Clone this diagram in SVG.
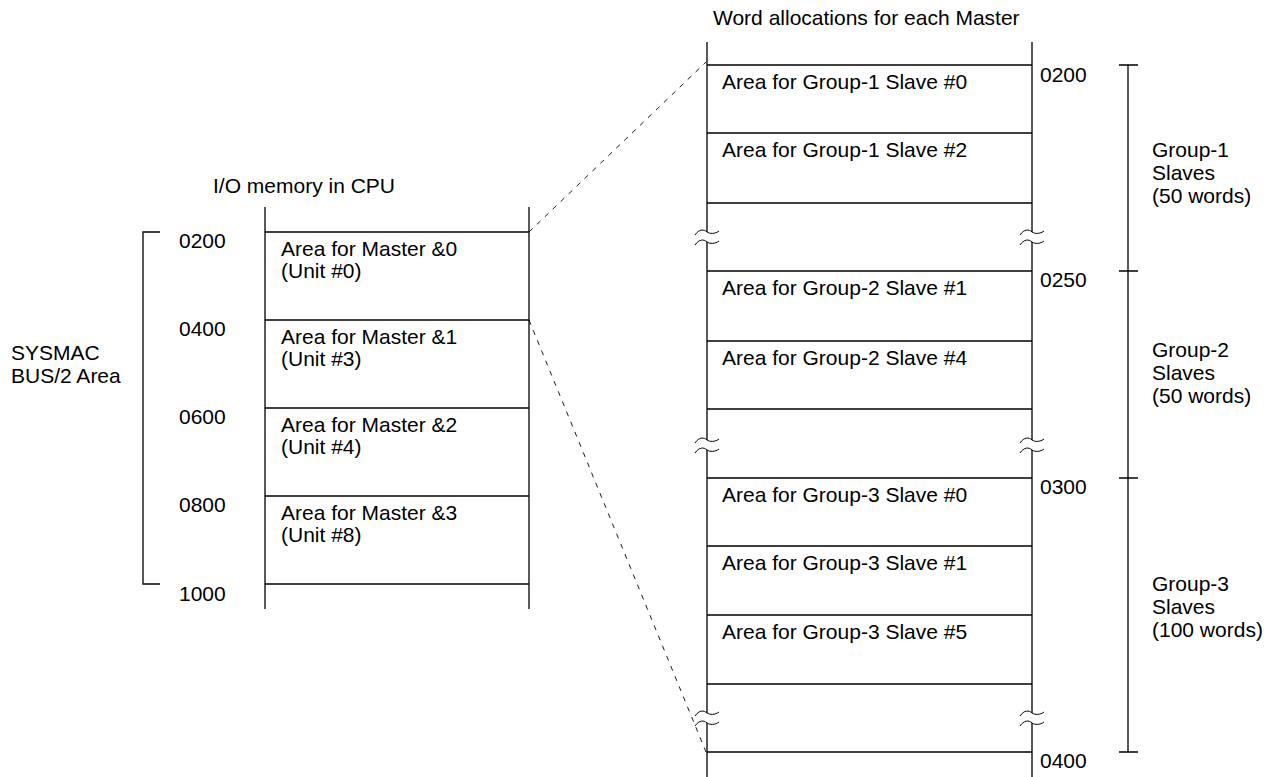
<svg xmlns="http://www.w3.org/2000/svg" width="1273" height="777" viewBox="0 0 1273 777">
<style>
text{font-family:"Liberation Sans",Arial,sans-serif;font-size:21px;fill:#000}
.ln{stroke:#000;stroke-width:1.3;fill:none}
.dash{stroke:#000;stroke-width:0.9;fill:none;stroke-dasharray:5 6}
.brk{stroke:#000;stroke-width:1;fill:none}
</style>
<defs>
<path id="wave" d="M-12,3 C-8,-3 -3,-3 0,0 C3,2 8,2 12,-1"/>
<g id="brk"><use href="#wave" y="0"/><use href="#wave" y="10"/></g>
</defs>
<rect width="1273" height="777" fill="#fff"/>

<g id="title-left"><text x="213" y="193">I/O memory in CPU</text></g>
<g id="title-right"><text x="713" y="25">Word allocations for each Master</text></g>

<g id="left-column">
<line class="ln" x1="265" y1="207" x2="265" y2="609"/>
<line class="ln" x1="529" y1="207" x2="529" y2="609"/>
<line class="ln" x1="265" y1="232" x2="529" y2="232"/>
<line class="ln" x1="265" y1="320" x2="529" y2="320"/>
<line class="ln" x1="265" y1="408" x2="529" y2="408"/>
<line class="ln" x1="265" y1="496" x2="529" y2="496"/>
<line class="ln" x1="265" y1="584" x2="529" y2="584"/>
</g>
<g id="master0"><text x="281" y="256">Area for Master &amp;0</text><text x="281" y="278">(Unit #0)</text></g>
<g id="master1"><text x="281" y="344">Area for Master &amp;1</text><text x="281" y="366">(Unit #3)</text></g>
<g id="master2"><text x="281" y="432">Area for Master &amp;2</text><text x="281" y="454">(Unit #4)</text></g>
<g id="master3"><text x="281" y="520">Area for Master &amp;3</text><text x="281" y="542">(Unit #8)</text></g>
<g id="left-addresses">
<text x="179" y="248">0200</text>
<text x="179" y="336">0400</text>
<text x="179" y="424">0600</text>
<text x="179" y="512">0800</text>
<text x="179" y="601">1000</text>
</g>
<g id="sysmac-bracket">
<path class="ln" d="M160,232 H143 V584 H160"/>
<text x="11" y="360">SYSMAC</text>
<text x="11" y="383">BUS/2 Area</text>
</g>

<g id="right-column">
<path class="ln" d="M707,42 V232 M707,242 V440 M707,450 V713 M707,723 V777"/>
<path class="ln" d="M1032,42 V232 M1032,242 V440 M1032,450 V713 M1032,723 V777"/>
<line class="ln" x1="707" y1="65" x2="1032" y2="65"/>
<line class="ln" x1="707" y1="133" x2="1032" y2="133"/>
<line class="ln" x1="707" y1="203" x2="1032" y2="203"/>
<line class="ln" x1="707" y1="271" x2="1032" y2="271"/>
<line class="ln" x1="707" y1="341" x2="1032" y2="341"/>
<line class="ln" x1="707" y1="409" x2="1032" y2="409"/>
<line class="ln" x1="707" y1="478" x2="1032" y2="478"/>
<line class="ln" x1="707" y1="546" x2="1032" y2="546"/>
<line class="ln" x1="707" y1="615" x2="1032" y2="615"/>
<line class="ln" x1="707" y1="684" x2="1032" y2="684"/>
<line class="ln" x1="707" y1="752" x2="1032" y2="752"/>
<g class="brk">
<use href="#brk" x="707" y="232"/><use href="#brk" x="1032" y="232"/>
<use href="#brk" x="707" y="440"/><use href="#brk" x="1032" y="440"/>
<use href="#brk" x="707" y="713"/><use href="#brk" x="1032" y="713"/>
</g>
</g>
<g id="g1s0"><text x="722" y="89">Area for Group-1 Slave #0</text></g>
<g id="g1s2"><text x="722" y="157">Area for Group-1 Slave #2</text></g>
<g id="g2s1"><text x="722" y="295">Area for Group-2 Slave #1</text></g>
<g id="g2s4"><text x="722" y="365">Area for Group-2 Slave #4</text></g>
<g id="g3s0"><text x="722" y="502">Area for Group-3 Slave #0</text></g>
<g id="g3s1"><text x="722" y="570">Area for Group-3 Slave #1</text></g>
<g id="g3s5"><text x="722" y="639">Area for Group-3 Slave #5</text></g>
<g id="right-addresses">
<text x="1040" y="82">0200</text>
<text x="1040" y="287">0250</text>
<text x="1040" y="494">0300</text>
<text x="1040" y="768">0400</text>
</g>
<g id="group-bracket">
<path class="ln" d="M1128,65 V752 M1119,65 H1138 M1119,271 H1138 M1119,478 H1138 M1119,752 H1138"/>
</g>
<g id="group1-label"><text x="1152" y="157">Group-1</text><text x="1152" y="180">Slaves</text><text x="1152" y="203">(50 words)</text></g>
<g id="group2-label"><text x="1152" y="357">Group-2</text><text x="1152" y="380">Slaves</text><text x="1152" y="403">(50 words)</text></g>
<g id="group3-label"><text x="1152" y="591">Group-3</text><text x="1152" y="614">Slaves</text><text x="1152" y="637">(100 words)</text></g>

<g id="connectors">
<line class="dash" x1="529" y1="232" x2="706" y2="62"/>
<line class="dash" x1="529" y1="320" x2="706" y2="752"/>
</g>
</svg>
